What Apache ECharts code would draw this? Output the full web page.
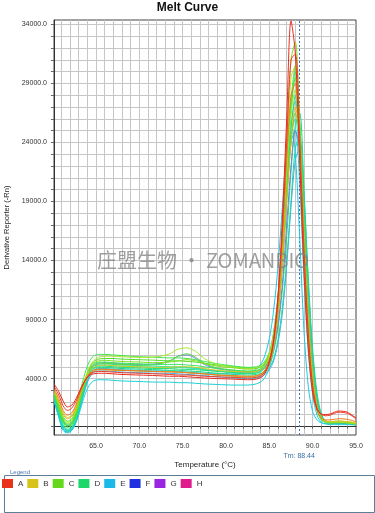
<!DOCTYPE html>
<html><head><meta charset="utf-8">
<script src="https://cdn.jsdelivr.net/npm/echarts@6/dist/echarts.min.js"></script>
<style>html,body{margin:0;padding:0;background:#fff}#c{width:375px;height:513px}</style>
</head><body><div id="c"></div>
<script>
// ---- data ----
const temps = [60.2, 60.7, 61.2, 61.7, 62.2, 62.7, 63.2, 63.7, 64.2, 64.7, 65.3, 66, 67, 68, 70, 72, 73.5, 74.5, 75.5, 76.5, 77.5, 79, 81, 82.5, 83.5, 84.3, 85, 85.5, 86, 86.5, 87, 87.5, 88, 88.5, 89, 89.5, 90, 90.5, 91, 91.5, 92, 93, 94, 95];
const rowNames = ['A', 'B', 'C', 'D', 'E', 'F', 'G', 'H'];
const yTickValues = [0, 1000, 2000, 3000, 4000, 5000, 6000, 7000, 8000, 9000, 10000, 11000, 12000, 13000, 14000, 15000, 16000, 17000, 18000, 19000, 20000, 21000, 22000, 23000, 24000, 25000, 26000, 27000, 28000, 29000, 30000, 31000, 32000, 33000, 34000];
const yLabelValues = [4000, 9000, 14000, 19000, 24000, 29000, 34000];
const xTickValues = [61, 62, 63, 64, 65, 66, 67, 68, 69, 70, 71, 72, 73, 74, 75, 76, 77, 78, 79, 80, 81, 82, 83, 84, 85, 86, 87, 88, 89, 90, 91, 92, 93, 94];
const xLabelValues = [65, 70, 75, 80, 85, 90, 95];
const tmValue = 88.44;

const wA1 = [3500, 2900, 2100, 1600, 1750, 2300, 3100, 3800, 4250, 4400, 4450, 4450, 4400, 4350, 4300, 4250, 4200, 4200, 4150, 4100, 4050, 4000, 3950, 3900, 3950, 4250, 5300, 7200, 11000, 17500, 26000, 34300, 31500, 22500, 13000, 6500, 2800, 1400, 1000, 950, 1000, 1250, 1150, 650];
const wA2 = [3300, 2600, 1700, 1300, 1500, 2100, 3000, 3800, 4300, 4550, 4600, 4600, 4550, 4500, 4450, 4400, 4350, 4300, 4300, 4250, 4200, 4150, 4100, 4050, 4100, 4400, 5500, 7400, 10800, 16500, 24000, 31000, 31500, 24500, 15000, 7800, 3400, 1500, 950, 850, 900, 1150, 1050, 600];
const wA3 = [3100, 2300, 1300, 900, 1100, 1800, 2900, 3800, 4400, 4700, 4800, 4800, 4750, 4700, 4650, 4600, 4550, 4550, 4500, 4450, 4400, 4300, 4250, 4200, 4250, 4550, 5500, 7200, 10300, 15500, 22500, 28000, 29000, 23000, 14500, 7500, 3300, 1300, 650, 500, 500, 600, 550, 350];
const wB1 = [3000, 2100, 1100, 700, 900, 1700, 2900, 3900, 4600, 4950, 5100, 5150, 5100, 5050, 5000, 4950, 4950, 5000, 5000, 4950, 4850, 4700, 4600, 4550, 4600, 4900, 5900, 7600, 10800, 16000, 23000, 29500, 30500, 24000, 15000, 7800, 3500, 1400, 600, 400, 350, 400, 350, 250];
const wB2 = [2900, 2000, 1000, 600, 800, 1500, 2600, 3600, 4300, 4650, 4750, 4750, 4700, 4700, 4650, 4600, 4600, 4550, 4500, 4450, 4400, 4300, 4200, 4150, 4200, 4450, 5300, 6700, 9300, 13500, 19000, 24000, 27000, 24500, 16500, 9000, 4200, 1700, 700, 400, 350, 400, 350, 250];
const wC1 = [2700, 1700, 600, 200, 400, 1200, 2500, 3800, 4800, 5300, 5500, 5550, 5500, 5450, 5400, 5350, 5400, 5500, 5600, 5500, 5300, 5050, 4900, 4800, 4850, 5150, 6100, 7800, 11000, 16500, 24000, 31000, 32500, 25500, 16000, 8300, 3700, 1400, 550, 350, 300, 350, 300, 200];
const wC2 = [2500, 1400, 300, -150, 50, 900, 2300, 3700, 4800, 5400, 5650, 5700, 5700, 5650, 5600, 5550, 5500, 5500, 5450, 5400, 5300, 5150, 5000, 4900, 4900, 5100, 5900, 7300, 10000, 14500, 21000, 27000, 29500, 25000, 16500, 9000, 4200, 1700, 600, 300, 250, 250, 250, 150];
const wC3 = [2600, 1500, 400, 0, 200, 1000, 2300, 3600, 4600, 5100, 5300, 5300, 5250, 5200, 5150, 5200, 5500, 5900, 6100, 5800, 5300, 4900, 4700, 4600, 4650, 4900, 5700, 7000, 9500, 13500, 19000, 24000, 26500, 24500, 17500, 10000, 4800, 1900, 700, 350, 250, 300, 250, 150];
const wD1 = [2800, 1600, 500, 0, 150, 900, 2200, 3500, 4500, 4900, 5050, 5050, 5000, 4950, 4900, 4850, 4850, 4800, 4780, 4750, 4700, 4600, 4500, 4450, 4500, 4800, 5800, 7300, 10000, 14000, 19500, 25000, 28000, 24000, 15500, 8500, 4000, 1700, 700, 400, 300, 320, 300, 200];
const wD2 = [2300, 1100, 0, -400, -200, 600, 1900, 3300, 4300, 4800, 4950, 4950, 4900, 4850, 4800, 4750, 4700, 4700, 4650, 4600, 4550, 4450, 4350, 4300, 4350, 4550, 5200, 6300, 8300, 11500, 16000, 21500, 25500, 26500, 20000, 12000, 6000, 2500, 900, 400, 300, 300, 250, 150];
const wD3 = [2700, 1600, 500, 100, 300, 1100, 2400, 3700, 4700, 5200, 5400, 5400, 5350, 5300, 5250, 5200, 5200, 5200, 5150, 5100, 5000, 4850, 4700, 4650, 4700, 4950, 5800, 7200, 9800, 14000, 20000, 26500, 30000, 26000, 17000, 9200, 4300, 1700, 600, 350, 300, 300, 250, 150];
const wD4 = [2200, 1000, -100, -450, -250, 500, 1800, 3200, 4200, 4650, 4800, 4800, 4750, 4700, 4650, 4600, 4600, 4550, 4500, 4450, 4400, 4300, 4200, 4150, 4200, 4400, 4900, 5700, 7300, 10000, 14000, 19000, 23500, 24500, 19500, 12500, 6500, 2800, 1000, 400, 250, 250, 200, 100];
const wE1 = [2100, 900, -200, -500, -300, 400, 1700, 3100, 4200, 4700, 4850, 4850, 4800, 4750, 4700, 4650, 4650, 4600, 4550, 4500, 4450, 4400, 4400, 4500, 4800, 5600, 7400, 9800, 13500, 18500, 23500, 25800, 23000, 16000, 8000, 3300, 1200, 500, 250, 200, 200, 200, 200, 100];
const wE2 = [2000, 800, -300, -550, -350, 350, 1600, 3000, 4000, 4500, 4650, 4650, 4600, 4550, 4500, 4450, 4450, 4400, 4350, 4300, 4250, 4150, 4050, 4000, 4050, 4250, 4750, 5500, 7000, 9500, 13500, 18500, 22500, 23500, 18500, 11500, 5800, 2300, 800, 300, 200, 200, 150, 100];
const wE3 = [2400, 1200, 100, -300, -100, 700, 2000, 3400, 4400, 4900, 5100, 5150, 5100, 5050, 5000, 4950, 4950, 4950, 4900, 4850, 4750, 4650, 4550, 4500, 4600, 5000, 6200, 8000, 11000, 15500, 21000, 25500, 27500, 24000, 15500, 8000, 3600, 1400, 500, 300, 250, 250, 200, 150];
const wF1 = [2600, 1500, 400, 0, 200, 1000, 2300, 3600, 4600, 5100, 5300, 5350, 5300, 5250, 5200, 5250, 5500, 5900, 6000, 5700, 5200, 4850, 4650, 4550, 4600, 4850, 5500, 6600, 8600, 12000, 17000, 22000, 25000, 23500, 17000, 9800, 4700, 1900, 700, 350, 250, 250, 200, 150];
const wG1 = [2800, 1800, 700, 300, 500, 1300, 2600, 3900, 4900, 5500, 5800, 5900, 5900, 5850, 5800, 5850, 6100, 6500, 6600, 6300, 5700, 5200, 4950, 4850, 4900, 5200, 6100, 7600, 10500, 15000, 21500, 26500, 28500, 24000, 15500, 8300, 3800, 1500, 550, 300, 250, 300, 250, 150];
const wG2 = [2900, 1900, 800, 400, 600, 1500, 3000, 4400, 5400, 5900, 6050, 6050, 6000, 5950, 5850, 5800, 5750, 5750, 5700, 5600, 5450, 5250, 5050, 4950, 5000, 5300, 6200, 7700, 10500, 15000, 21500, 27500, 30500, 25500, 16500, 8800, 4000, 1600, 600, 350, 300, 300, 250, 150];
const wH1 = [2400, 1200, 0, -350, -150, 700, 2100, 3500, 4500, 5000, 5200, 5250, 5200, 5150, 5100, 5050, 5000, 5000, 4950, 4900, 4800, 4650, 4500, 4400, 4450, 4750, 5700, 7200, 10000, 14500, 20000, 24500, 26000, 22500, 14500, 7500, 3400, 1300, 500, 300, 250, 250, 200, 100];
const wH2 = [2000, 700, -400, -600, -400, 300, 1400, 2600, 3400, 3800, 3900, 3900, 3850, 3800, 3750, 3700, 3700, 3650, 3650, 3600, 3550, 3500, 3450, 3450, 3550, 3900, 4900, 6600, 9500, 14000, 19500, 24000, 25000, 20500, 12500, 6200, 2600, 900, 300, 150, 100, 100, 100, 50];

// ---- wells (row, data) and styles ----
const wells = [
  ['E', wE2], ['H', wH2], ['D', wD4], ['E', wE1], ['D', wD2], ['H', wH1], ['E', wE3],
  ['F', wF1], ['D', wD1], ['C', wC3], ['D', wD3], ['C', wC2], ['G', wG2], ['G', wG1],
  ['B', wB2], ['C', wC1], ['B', wB1], ['A', wA3], ['A', wA2], ['A', wA1]
];
const wellColors = ['#3cb2f0', '#1ad2d6', '#2ad0a2', '#1ec8e2', '#1ed88c', '#1ee8a2', '#22e0c2',
  '#7080e0', '#22e072', '#60d840', '#36e85e', '#50e02a', '#40e850', '#a8e830',
  '#e8ac1e', '#80e01e', '#d8cc1e', '#f07a1e', '#f03c28', '#e82a1e'];
const legendColors = ['#e8321c', '#d8c21c', '#66d81c', '#1cd86a', '#1cb8e8', '#2030e0', '#9a24e0', '#e01c8c'];

const series = wells.map((w, i) => ({
  type: 'line', name: w[0],
  data: temps.map((t, k) => [t, w[1][k]]),
  showSymbol: false, smooth: 0.3, silent: true,
  lineStyle: { width: 1, color: wellColors[i] },
  itemStyle: { color: wellColors[i] },
  z: 2 + i
}));
series[0].markLine = {
  silent: true, symbol: 'none', animation: false,
  data: [{ xAxis: tmValue }],
  lineStyle: { color: '#3a6ec8', type: [2, 2], width: 1 },
  label: { show: true, position: 'start', formatter: 'Tm: ' + tmValue.toFixed(2), color: '#3a6ea5', fontSize: 7, distance: 18, fontFamily: 'Liberation Sans' }
};

const chart = echarts.init(document.getElementById('c'), null, { renderer: 'canvas' });
chart.setOption({
  animation: false,
  backgroundColor: '#fff',
  textStyle: { fontFamily: 'Liberation Sans' },
  title: { text: 'Melt Curve', left: 'center', top: -3, textStyle: { fontSize: 12, fontWeight: 'bold', color: '#111', fontFamily: 'Liberation Sans' } },
  grid: { left: 54, right: 19, top: 20, bottom: 78, show: true, borderColor: '#444', borderWidth: 1, containLabel: false, outerBoundsMode: 'none' },
  legend: {
    left: 2, top: 479, padding: 0, icon: 'rect', itemWidth: 11, itemHeight: 9, itemGap: 4, selectedMode: false,
    textStyle: { fontSize: 8, color: '#333', fontFamily: 'Liberation Sans' },
    data: rowNames.map((n, i) => ({ name: n, itemStyle: { color: legendColors[i], borderWidth: 0 } }))
  },
  xAxis: {
    type: 'value', min: 60.15, max: 95,
    name: 'Temperature (°C)', nameLocation: 'middle', nameGap: 26,
    nameTextStyle: { fontSize: 8, color: '#222', fontFamily: 'Liberation Sans' },
    axisLine: { show: true, lineStyle: { color: '#333' } },
    axisTick: { show: true, length: 3, customValues: xTickValues, lineStyle: { color: '#666' } },
    axisLabel: { customValues: xLabelValues, formatter: v => v.toFixed(1), fontSize: 7, color: '#333', margin: 8 },
    splitLine: { show: true, lineStyle: { color: '#c6c6c6', width: 1 } }
  },
  yAxis: {
    type: 'value', min: -780, max: 34380,
    name: 'Derivative Reporter (-Rn)', nameLocation: 'middle', nameGap: 43,
    nameTextStyle: { fontSize: 7.5, color: '#222', fontFamily: 'Liberation Sans' },
    axisLine: { show: true, lineStyle: { color: '#333' } },
    axisTick: { show: true, length: 3, customValues: yTickValues, lineStyle: { color: '#666' } },
    axisLabel: { customValues: yLabelValues, formatter: v => v.toFixed(1), fontSize: 7, color: '#333', margin: 7 },
    splitLine: { show: true, lineStyle: { color: '#c6c6c6', width: 1 } }
  },
  graphic: [
    { type: 'rect', left: 2, top: 473, z: 0, shape: { width: 370, height: 37 }, style: { fill: 'none', stroke: '#5d7d96', lineWidth: 1 } },
    { type: 'text', left: 9, top: 469, z: 1, style: { text: 'Legend', fontSize: 6, fill: '#4a78b0', backgroundColor: '#fff', padding: [0, 1], fontFamily: 'Liberation Sans' } },
    { type: 'text', left: 97, top: 250, z: 100, silent: true, style: { text: '庄盟生物 · ZOMANBIO', fontSize: 20, fill: 'rgba(128,128,128,0.75)', fontFamily: 'Noto Sans CJK SC' } }
  ],
  series: series
});
</script></body></html>
